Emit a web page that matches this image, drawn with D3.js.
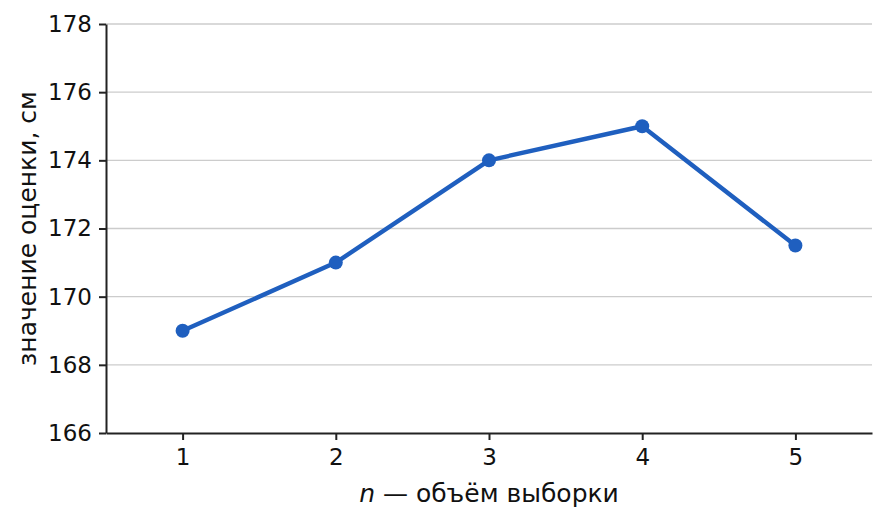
<!DOCTYPE html>
<html>
<head>
<meta charset="utf-8">
<script src="https://cdn.jsdelivr.net/npm/d3@7"></script>
<style>
  body { margin: 0; background: #fff; }
  svg { display: block; font-family: "DejaVu Sans", sans-serif; }
</style>
</head>
<body>
<svg id="chart"></svg>
<script>
const sampleSizes = [1, 2, 3, 4, 5];
const estimates = [169, 171, 174, 175, 171.5];
const yTicks = [166, 168, 170, 172, 174, 176, 178];

const width = 886, height = 524;
const marginTop = 24, marginRight = 14, marginBottom = 91, marginLeft = 106;
const color = "#1f5fbf";
const font = "DejaVu Sans";

const svg = d3.select("#chart")
    .attr("width", width)
    .attr("height", height)
    .attr("viewBox", [0, 0, width, height]);

const x = d3.scaleLinear([0.5, 5.5], [marginLeft, width - marginRight]);
const y = d3.scaleLinear([166, 178], [height - marginBottom, marginTop]);

// horizontal grid
svg.append("g")
    .attr("stroke", "#cccccc")
    .attr("stroke-width", 1.3)
  .selectAll("line")
  .data(yTicks.slice(1))
  .join("line")
    .attr("x1", marginLeft)
    .attr("x2", width - marginRight)
    .attr("y1", d => y(d))
    .attr("y2", d => y(d));

const yAxis = d3.axisLeft(y).tickValues(yTicks).tickFormat(d3.format("d"))
    .tickSize(7).tickPadding(7).tickSizeOuter(0);
const xAxis = d3.axisBottom(x).tickValues(sampleSizes).tickFormat(d3.format("d"))
    .tickSize(7).tickPadding(9).tickSizeOuter(0);

function styleAxis(g) {
  g.attr("font-family", font).attr("font-size", 23);
  g.selectAll("path, line").attr("stroke", "#222").attr("stroke-width", 2);
  g.selectAll("text").attr("fill", "#111");
}

svg.append("g")
    .attr("transform", `translate(${marginLeft},0)`)
    .call(yAxis)
    .call(styleAxis);

svg.append("g")
    .attr("transform", `translate(0,${height - marginBottom})`)
    .call(xAxis)
    .call(styleAxis);

const line = d3.line()
    .x((d, i) => x(sampleSizes[i]))
    .y(d => y(d));

svg.append("path")
    .datum(estimates)
    .attr("fill", "none")
    .attr("stroke", color)
    .attr("stroke-width", 4.4)
    .attr("stroke-linejoin", "round")
    .attr("d", line);

svg.append("g")
    .attr("fill", color)
  .selectAll("circle")
  .data(estimates)
  .join("circle")
    .attr("cx", (d, i) => x(sampleSizes[i]))
    .attr("cy", d => y(d))
    .attr("r", 7);

// axis labels
const xLabel = svg.append("text")
    .attr("x", (marginLeft + width - marginRight) / 2)
    .attr("y", 502)
    .attr("text-anchor", "middle")
    .attr("font-family", font)
    .attr("font-size", 25)
    .attr("fill", "#111");
xLabel.append("tspan").attr("font-style", "italic").text("n");
xLabel.append("tspan").text(" — объём выборки");

svg.append("text")
    .attr("transform", `translate(36,${(marginTop + height - marginBottom) / 2}) rotate(-90)`)
    .attr("text-anchor", "middle")
    .attr("font-family", font)
    .attr("font-size", 25)
    .attr("fill", "#111")
    .text("значение оценки, см");
</script>
</body>
</html>
